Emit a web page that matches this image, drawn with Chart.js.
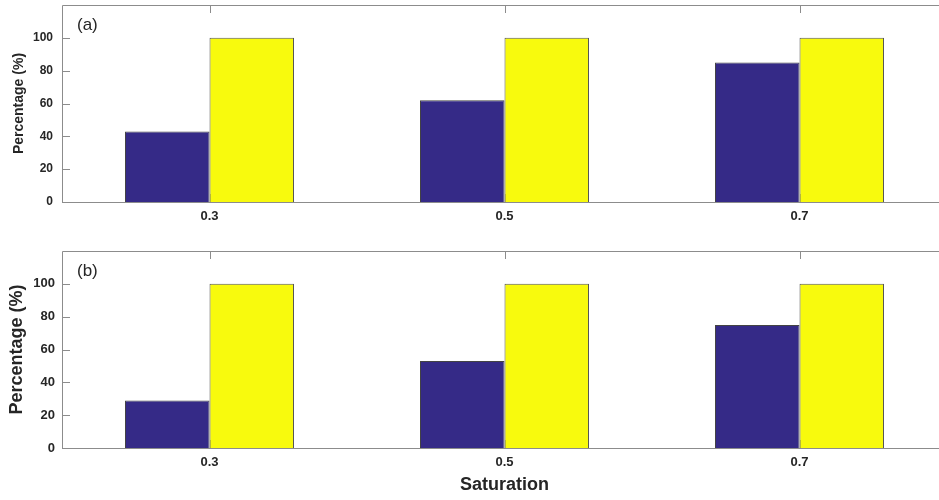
<!DOCTYPE html>
<html>
<head>
<meta charset="utf-8">
<script src="https://cdn.jsdelivr.net/npm/chart.js@4/dist/chart.umd.min.js"></script>
<style>
  body { margin: 0; overflow: hidden; background: #fff; width: 939px; height: 500px; }
  canvas { position: absolute; left: 0; }
  #chartA { top: 0; }
  #chartB { top: 240px; }
</style>
</head>
<body>
<canvas id="chartA" width="948" height="240"></canvas>
<canvas id="chartB" width="948" height="260"></canvas>
<script>
// Saturation levels (x categories)
const categories = ["0.3", "0.5", "0.7"];
const yTicks = [0, 20, 40, 60, 80, 100];

// Panel (a)
const panelA_blue = [43, 62, 85];
const panelA_yellow = [100, 100, 100];

// Panel (b)
const panelB_blue = [29, 53, 75];
const panelB_yellow = [100, 100, 100];

const FONT = "'Liberation Sans', Arial, Helvetica, sans-serif";
const TEXT = "#262626";
const AXIS = "#8c8c8c";

// Draw the MATLAB-like box with inward ticks and the panel letter
const framePlugin = {
  id: "frame",
  beforeDatasetsDraw(chart, args, opts) {
    const { ctx, chartArea: a } = chart;
    const xs = chart.scales.x;
    const ys = chart.scales.y;
    const tick = 8;
    ctx.save();
    ctx.strokeStyle = AXIS;
    ctx.lineWidth = 1;
    ctx.beginPath();
    ctx.rect(Math.round(a.left) + 0.5, Math.round(a.top) + 0.5,
      Math.round(a.right - a.left), Math.round(a.bottom - a.top));
    yTicks.forEach((v) => {
      const y = Math.round(ys.getPixelForValue(v)) + 0.5;
      ctx.moveTo(a.left, y);
      ctx.lineTo(a.left + tick, y);
      ctx.moveTo(a.right, y);
      ctx.lineTo(a.right - tick, y);
    });
    categories.forEach((c, i) => {
      const x = Math.round(xs.getPixelForValue(i)) + 0.5;
      ctx.moveTo(x, a.top);
      ctx.lineTo(x, a.top + tick);
      ctx.moveTo(x, a.bottom);
      ctx.lineTo(x, a.bottom - tick);
    });
    ctx.stroke();
    ctx.restore();
  },
  afterDraw(chart, args, opts) {
    const { ctx, chartArea: a } = chart;
    ctx.save();
    ctx.fillStyle = TEXT;
    ctx.font = "17px " + FONT;
    ctx.textBaseline = "middle";
    ctx.textAlign = "left";
    ctx.fillText(opts.letter, a.left + 15, a.top + opts.letterDy);
    ctx.restore();
  },
};

function makePanel(id, blue, yellow, cfg) {
  const ctx = document.getElementById(id).getContext("2d");
  return new Chart(ctx, {
    type: "bar",
    data: {
      labels: categories,
      datasets: [
        {
          data: blue,
          backgroundColor: "#352a87",
          borderColor: "#444",
          borderWidth: 1,
          barPercentage: 1,
          categoryPercentage: 0.573,
        },
        {
          data: yellow,
          backgroundColor: "#f8fa0d",
          borderColor: "#555",
          borderWidth: 1,
          barPercentage: 1,
          categoryPercentage: 0.573,
        },
      ],
    },
    options: {
      responsive: false,
      animation: false,
      layout: { padding: { top: cfg.padTop, right: 1, left: 0, bottom: 0 } },
      plugins: {
        legend: { display: false },
        tooltip: { enabled: false },
        frame: { letter: cfg.letter, letterDy: cfg.letterDy },
      },
      scales: {
        x: {
          grid: { display: false, drawTicks: false },
          border: { display: false },
          ticks: {
            color: TEXT,
            padding: 7,
            font: { family: FONT, size: 13, weight: "bold" },
          },
          title: {
            display: cfg.xTitle !== "",
            text: cfg.xTitle,
            color: TEXT,
            font: { family: FONT, size: 18, weight: "bold" },
            padding: { top: 0, bottom: 4 },
          },
          afterFit: (scale) => {
            scale.height = cfg.xHeight;
            scale.paddingLeft = 0;
            scale.paddingRight = 0;
          },
        },
        y: {
          min: 0,
          max: 120,
          grid: { display: false, drawTicks: false },
          border: { display: false },
          afterBuildTicks: (scale) => {
            scale.ticks = yTicks.map((v) => ({ value: v }));
          },
          ticks: {
            color: TEXT,
            padding: cfg.yTickPad,
            font: { family: FONT, size: cfg.yTickSize, weight: "bold" },
          },
          title: {
            display: true,
            text: "Percentage (%)",
            color: TEXT,
            font: { family: FONT, size: cfg.yTitleSize, weight: "bold" },
            padding: { top: cfg.yTitlePad, bottom: 0 },
          },
          afterFit: (scale) => {
            scale.width = 62;
            scale.paddingTop = 0;
            scale.paddingBottom = 0;
          },
        },
      },
    },
    plugins: [framePlugin],
  });
}

makePanel("chartA", panelA_blue, panelA_yellow, {
  padTop: 5,
  xHeight: 38,
  xTitle: "",
  yTickPad: 9,
  yTickSize: 12,
  yTitleSize: 14,
  yTitlePad: 10.6,
  letter: "(a)",
  letterDy: 20.5,
});

makePanel("chartB", panelB_blue, panelB_yellow, {
  padTop: 11,
  xHeight: 52,
  xTitle: "Saturation",
  yTickPad: 7,
  yTickSize: 13,
  yTitleSize: 18,
  yTitlePad: 6.7,
  letter: "(b)",
  letterDy: 20,
});
</script>
</body>
</html>
